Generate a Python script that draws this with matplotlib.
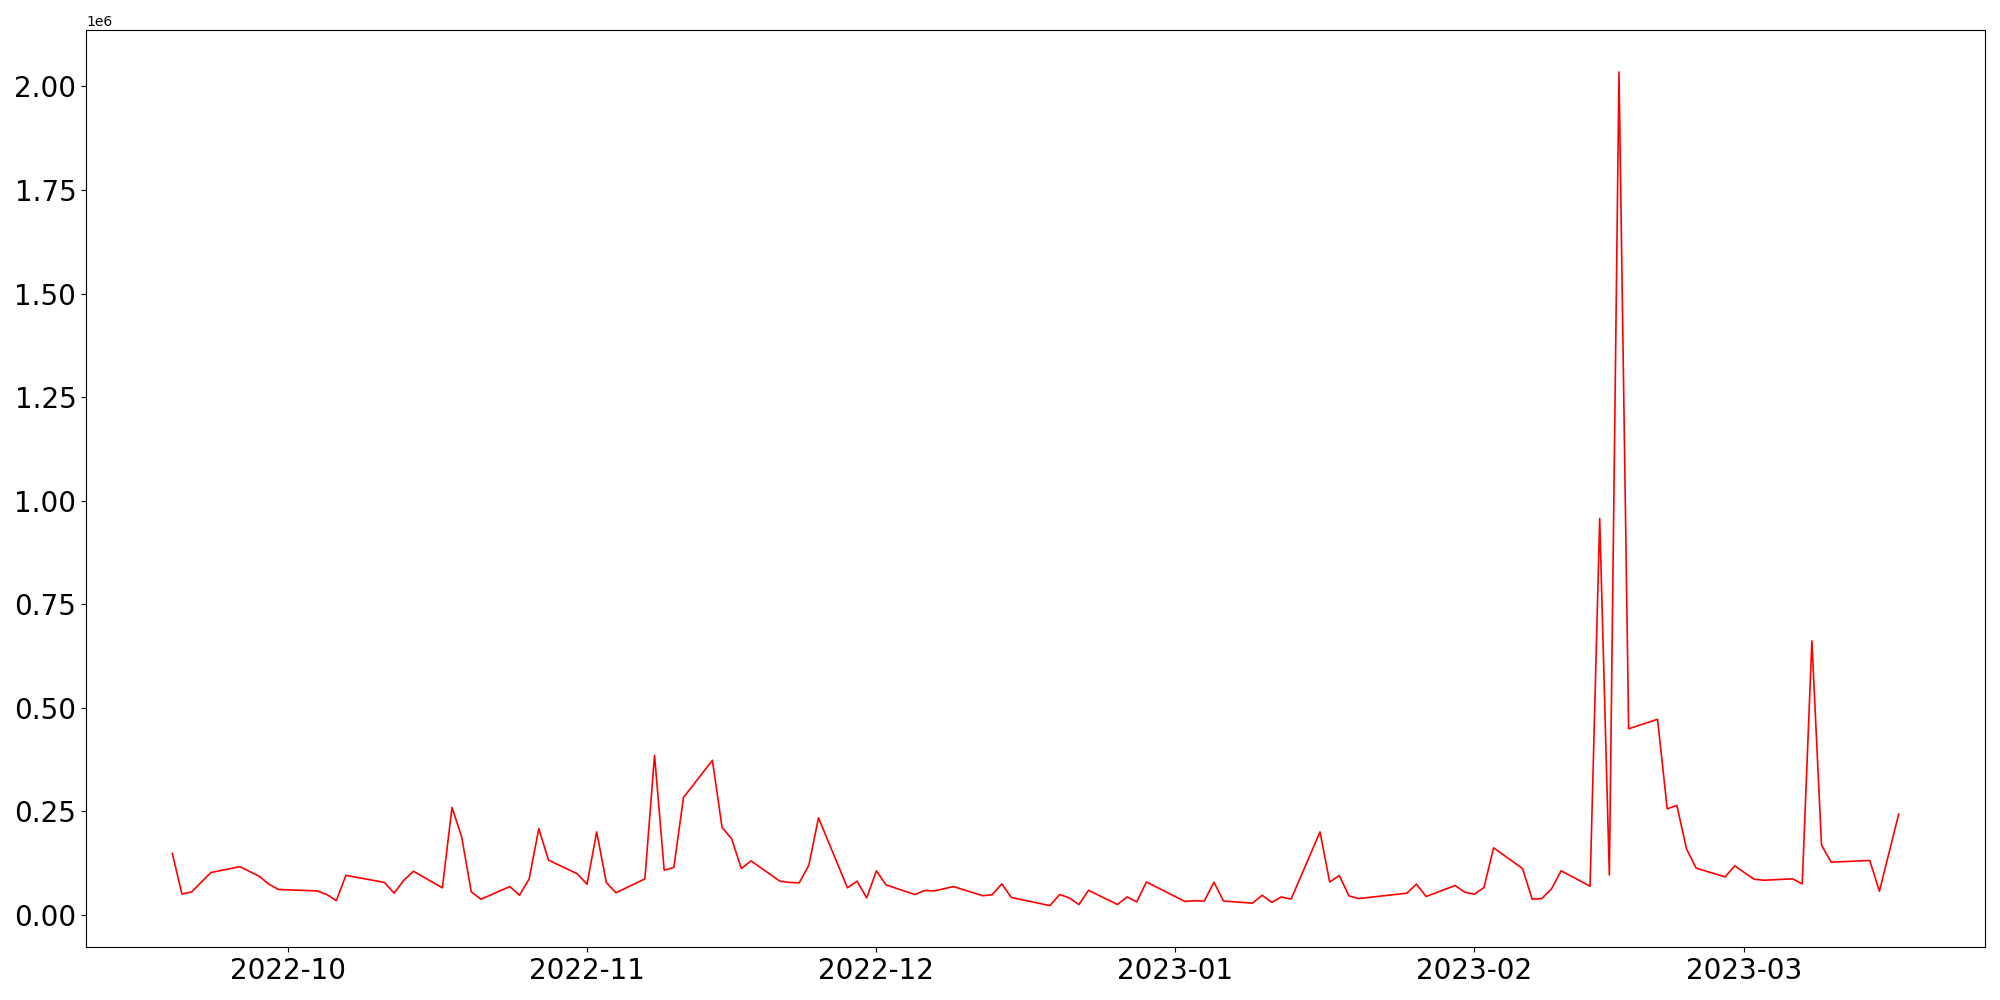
import matplotlib
matplotlib.use("Agg")
import matplotlib.pyplot as plt
import pandas as pd

dates = [
    "2022-09-19", "2022-09-20", "2022-09-21", "2022-09-23", "2022-09-26", "2022-09-28",
    "2022-09-29", "2022-09-30", "2022-10-04", "2022-10-05", "2022-10-06", "2022-10-07",
    "2022-10-11", "2022-10-12", "2022-10-13", "2022-10-14", "2022-10-17", "2022-10-18",
    "2022-10-19", "2022-10-20", "2022-10-21", "2022-10-24", "2022-10-25", "2022-10-26",
    "2022-10-27", "2022-10-28", "2022-10-31", "2022-11-01", "2022-11-02", "2022-11-03",
    "2022-11-04", "2022-11-07", "2022-11-08", "2022-11-09", "2022-11-10", "2022-11-11",
    "2022-11-14", "2022-11-15", "2022-11-16", "2022-11-17", "2022-11-18", "2022-11-21",
    "2022-11-22", "2022-11-23", "2022-11-24", "2022-11-25", "2022-11-28", "2022-11-29",
    "2022-11-30", "2022-12-01", "2022-12-02", "2022-12-05", "2022-12-06", "2022-12-07",
    "2022-12-09", "2022-12-12", "2022-12-13", "2022-12-14", "2022-12-15", "2022-12-19",
    "2022-12-20", "2022-12-21", "2022-12-22", "2022-12-23", "2022-12-26", "2022-12-27",
    "2022-12-28", "2022-12-29", "2023-01-02", "2023-01-03", "2023-01-04", "2023-01-05",
    "2023-01-06", "2023-01-09", "2023-01-10", "2023-01-11", "2023-01-12", "2023-01-13",
    "2023-01-16", "2023-01-17", "2023-01-18", "2023-01-19", "2023-01-20", "2023-01-25",
    "2023-01-26", "2023-01-27", "2023-01-30", "2023-01-31", "2023-02-01", "2023-02-02",
    "2023-02-03", "2023-02-06", "2023-02-07", "2023-02-08", "2023-02-09", "2023-02-10",
    "2023-02-13", "2023-02-14", "2023-02-15", "2023-02-16", "2023-02-17", "2023-02-20",
    "2023-02-21", "2023-02-22", "2023-02-23", "2023-02-24", "2023-02-27", "2023-02-28",
    "2023-03-02", "2023-03-03", "2023-03-06", "2023-03-07", "2023-03-08", "2023-03-09",
    "2023-03-10", "2023-03-14", "2023-03-15", "2023-03-17",
]

values = [
    148000, 50000, 55000, 102000, 116000, 93000,
    74000, 61000, 57500, 49000, 34000, 95000,
    78000, 52000, 83000, 105000, 65000, 259000,
    188000, 55000, 37500, 68000, 47000, 86600,
    208000, 132000, 98700, 73700, 200000, 78000,
    53000, 86600, 385000, 107500, 114000, 283000,
    373000, 211000, 183000, 111500, 130000, 81000,
    78000, 77000, 119600, 234000, 65000, 81000,
    40600, 106000, 72000, 48800, 58500, 57500,
    68000, 46000, 48000, 74500, 41500, 22000,
    48800, 40600, 24600, 59000, 24600, 43000,
    31000, 79000, 32000, 34000, 33000, 78500,
    33000, 28000, 47000, 30000, 43000, 37500,
    200000, 79000, 94700, 45500, 39000, 52000,
    73700, 44000, 70500, 54400, 49500, 65700,
    161500, 111500, 37500, 39000, 62400, 106000,
    68900, 957000, 96000, 2035000, 449000, 472000,
    255700, 264000, 159000, 112500, 91400, 118000,
    85800, 83300, 86600, 74500, 661000, 168000,
    127000, 131000, 56800, 243000,
]

x = pd.to_datetime(dates)

fig = plt.figure(figsize=(20, 10), dpi=100)
ax = fig.add_axes([0.043, 0.0527, 0.9495, 0.917])
ax.plot(x, values, color="red", linewidth=1.2)
ax.tick_params(axis="both", labelsize=20)

fig.savefig("out.png", dpi=100)
